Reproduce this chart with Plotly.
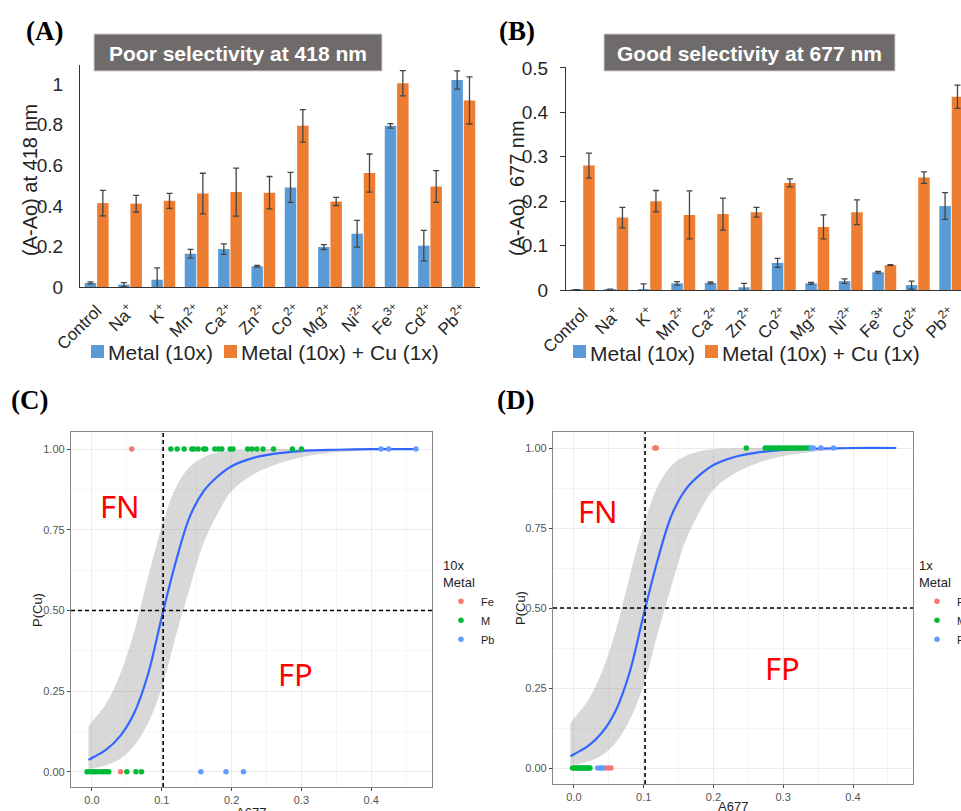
import plotly.graph_objects as go

W, H = 961, 811
def px(x):
    return x / W
def py(y):
    return 1 - y / H

# ---------------- data: bar panels ----------------
metals = ["Control", "Na", "K", "Mn", "Ca", "Zn", "Co", "Mg", "Ni", "Fe", "Cd", "Pb"]
metal_labels = ["Control", "Na<sup>+</sup>", "K<sup>+</sup>", "Mn<sup>2+</sup>", "Ca<sup>2+</sup>",
                "Zn<sup>2+</sup>", "Co<sup>2+</sup>", "Mg<sup>2+</sup>", "Ni<sup>2+</sup>",
                "Fe<sup>3+</sup>", "Cd<sup>2+</sup>", "Pb<sup>2+</sup>"]

a418_metal = [0.020, 0.012, 0.036, 0.164, 0.187, 0.102, 0.491, 0.197, 0.263, 0.795, 0.204, 1.021]
a418_metal_err = [0.005, 0.010, 0.058, 0.022, 0.026, 0.004, 0.074, 0.012, 0.066, 0.011, 0.075, 0.045]
a418_cu = [0.414, 0.411, 0.425, 0.461, 0.468, 0.465, 0.795, 0.422, 0.562, 1.005, 0.496, 0.920]
a418_cu_err = [0.063, 0.041, 0.037, 0.100, 0.118, 0.080, 0.080, 0.020, 0.094, 0.062, 0.078, 0.116]

a677_metal = [0.001, 0.002, 0.002, 0.015, 0.016, 0.006, 0.061, 0.015, 0.020, 0.040, 0.011, 0.189]
a677_metal_err = [0.0, 0.0, 0.012, 0.004, 0.002, 0.009, 0.010, 0.002, 0.005, 0.002, 0.009, 0.030]
a677_cu = [0.280, 0.163, 0.200, 0.169, 0.171, 0.175, 0.241, 0.142, 0.175, 0.056, 0.253, 0.435]
a677_cu_err = [0.028, 0.023, 0.024, 0.054, 0.036, 0.011, 0.009, 0.027, 0.028, 0.001, 0.013, 0.026]

a_yticks = [0, 0.2, 0.4, 0.6, 0.8, 1.0]
a_yticktext = ["0", "0.2", "0.4", "0.6", "0.8", "1"]
b_yticks = [0, 0.1, 0.2, 0.3, 0.4, 0.5]
b_yticktext = ["0", "0.1", "0.2", "0.3", "0.4", "0.5"]

# ---------------- data: logistic panels ----------------
fit_x = [-0.005, 0.0, 0.02, 0.04, 0.06, 0.08, 0.10, 0.12, 0.14, 0.16, 0.18, 0.20, 0.23, 0.26, 0.30, 0.35, 0.40, 0.462]
fit_p = [0.037, 0.043, 0.068, 0.11, 0.18, 0.30, 0.48, 0.65, 0.79, 0.87, 0.915, 0.947, 0.972, 0.985, 0.994, 0.998, 1.0, 1.0]
fit_hi = [0.14, 0.155, 0.21, 0.30, 0.43, 0.60, 0.76, 0.88, 0.945, 0.975, 0.99, 0.996, 0.999, 1.0, 1.0, 1.0, 1.0, 1.0]
fit_lo = [0.008, 0.010, 0.020, 0.040, 0.08, 0.15, 0.26, 0.42, 0.57, 0.71, 0.80, 0.87, 0.92, 0.95, 0.975, 0.99, 0.996, 1.0]
threshold_x = 0.102
threshold_p = 0.5

# 10x metal (panel C)
c_fe_x = [0.057, 0.041]
c_fe_y = [1, 0]
c_m_x = [0.113, 0.122, 0.132, 0.143, 0.146, 0.152, 0.160, 0.163, 0.176, 0.181, 0.186, 0.198, 0.202,
         0.223, 0.229, 0.236, 0.245, 0.260, 0.287, 0.300,
         -0.007, -0.003, 0.001, 0.004, 0.008, 0.013, 0.017, 0.021, 0.024, 0.050, 0.063, 0.071]
c_m_y = [1] * 20 + [0] * 12
c_pb_x = [0.414, 0.425, 0.464, 0.156, 0.192, 0.217]
c_pb_y = [1, 1, 1, 0, 0, 0]

# 1x metal (panel D)
d_fe_x = [0.116, 0.118, 0.044, 0.049, 0.053]
d_fe_y = [1, 1, 0, 0, 0]
d_m_x = [0.247, 0.274, 0.278, 0.282, 0.286, 0.290, 0.294, 0.298, 0.302, 0.306, 0.310, 0.314, 0.318,
         0.322, 0.326, 0.330, 0.334, 0.337,
         -0.002, 0.001, 0.003, 0.005, 0.007, 0.009, 0.011, 0.013, 0.015, 0.017, 0.019, 0.021, 0.023]
d_m_y = [1] * 18 + [0] * 13
d_pb_x = [0.340, 0.343, 0.354, 0.372, 0.034, 0.038, 0.041]
d_pb_y = [1, 1, 1, 1, 0, 0, 0]

BLUE_BAR = "#5B9BD5"
ORANGE_BAR = "#ED7D31"
ERR = "#444444"
GG_RED, GG_GREEN, GG_BLUE = "#F8766D", "#00BA38", "#619CFF"

fig = go.Figure()

def add_bars(vals, errs, color, xa, ya):
    fig.add_trace(go.Bar(
        x=metals, y=vals, marker=dict(color=color, line=dict(width=0)),
        error_y=dict(type="data", array=errs, color=ERR, thickness=1.3, width=3),
        xaxis=xa, yaxis=ya, showlegend=False))

add_bars(a418_metal, a418_metal_err, BLUE_BAR, "x", "y")
add_bars(a418_cu, a418_cu_err, ORANGE_BAR, "x", "y")
add_bars(a677_metal, a677_metal_err, BLUE_BAR, "x2", "y2")
add_bars(a677_cu, a677_cu_err, ORANGE_BAR, "x2", "y2")

def add_logit(xa, ya, groups, legend):
    fig.add_trace(go.Scatter(x=fit_x, y=fit_lo, mode="lines", line=dict(width=0, shape="spline"),
                             xaxis=xa, yaxis=ya, showlegend=False, hoverinfo="skip"))
    fig.add_trace(go.Scatter(x=fit_x, y=fit_hi, mode="lines", line=dict(width=0, shape="spline"),
                             fill="tonexty", fillcolor="rgba(153,153,153,0.38)",
                             xaxis=xa, yaxis=ya, showlegend=False, hoverinfo="skip"))
    fig.add_trace(go.Scatter(x=fit_x, y=fit_p, mode="lines",
                             line=dict(color="#3366FF", width=2.2, shape="spline"),
                             xaxis=xa, yaxis=ya, showlegend=False))
    for name, gx, gy, col in groups:
        fig.add_trace(go.Scatter(x=gx, y=gy, mode="markers", name=name,
                                 marker=dict(color=col, size=5.5, line=dict(width=0)),
                                 xaxis=xa, yaxis=ya, legend=legend))

add_logit("x3", "y3", [("Fe", c_fe_x, c_fe_y, GG_RED), ("M", c_m_x, c_m_y, GG_GREEN),
                       ("Pb", c_pb_x, c_pb_y, GG_BLUE)], "legend3")
add_logit("x4", "y4", [("Fe", d_fe_x, d_fe_y, GG_RED), ("M", d_m_x, d_m_y, GG_GREEN),
                       ("Pb", d_pb_x, d_pb_y, GG_BLUE)], "legend4")

bar_x_common = dict(type="category", categoryorder="array", categoryarray=metals,
                    tickmode="array", tickvals=metals, ticktext=metal_labels, tickangle=-45,
                    tickfont=dict(size=17, color="#262626"), showline=True, linecolor="#333333",
                    linewidth=1.2, ticks="", showgrid=False, zeroline=False, automargin=False)
bar_y_common = dict(showline=True, linecolor="#333333", linewidth=1.2, showgrid=False,
                    zeroline=False, tickfont=dict(size=19, color="#262626"), tickmode="array",
                    automargin=False)

gg_x = dict(range=[-0.030, 0.487], dtick=0.1, tick0=0, tickformat=".1f", showgrid=True,
            gridcolor="#ebebeb", gridwidth=1, minor=dict(dtick=0.05, showgrid=True, gridcolor="#f5f5f5"),
            showline=True, mirror=True, linecolor="#858585", linewidth=1.3, ticks="outside",
            ticklen=3, tickcolor="#444", tickfont=dict(size=11, color="#555555"), zeroline=False,
            automargin=False)
gg_y = dict(range=[-0.047, 1.053], dtick=0.25, tick0=0, tickformat=".2f", showgrid=True,
            gridcolor="#ebebeb", gridwidth=1, minor=dict(dtick=0.125, showgrid=True, gridcolor="#f5f5f5"),
            showline=True, mirror=True, linecolor="#858585", linewidth=1.3, ticks="outside",
            ticklen=3, tickcolor="#444", tickfont=dict(size=11, color="#555555"), zeroline=False,
            automargin=False)

fig.update_layout(
    width=W, height=H, margin=dict(l=0, r=0, t=0, b=0, pad=0, autoexpand=False),
    paper_bgcolor="white", plot_bgcolor="white",
    font=dict(family="Liberation Sans, Arial, sans-serif"),
    barmode="group", bargap=0.26, bargroupgap=0.07,
    showlegend=True,
    xaxis=dict(domain=[px(80), px(480)], anchor="y", range=[-0.5, 11.5], ticklabelstandoff=6, **bar_x_common),
    yaxis=dict(domain=[py(287), py(65)], anchor="x", range=[0, 1.095], tickvals=a_yticks,
               ticktext=a_yticktext, ticks="", ticklabelstandoff=12, **bar_y_common),
    xaxis2=dict(domain=[px(566), 1.0], anchor="y2", range=[-0.5, 11.29], ticklabelstandoff=6, **bar_x_common),
    yaxis2=dict(domain=[py(290), py(67)], anchor="x2", range=[0, 0.502], tickvals=b_yticks,
                ticktext=b_yticktext, ticks="outside", ticklen=5, tickcolor="#333333",
                ticklabelstandoff=8, **bar_y_common),
    xaxis3=dict(domain=[px(71), px(432)], anchor="y3", **gg_x),
    yaxis3=dict(domain=[py(787), py(432)], anchor="x3", **gg_y),
    xaxis4=dict(domain=[px(553), px(913)], anchor="y4", **gg_x),
    yaxis4=dict(domain=[py(784), py(432)], anchor="x4", **gg_y),
    legend3=dict(x=px(441), y=py(553), xanchor="left", yanchor="top",
                 title=dict(text="10x<br>Metal", font=dict(size=13, color="#222")),
                 font=dict(size=11, color="#222"), bgcolor="rgba(0,0,0,0)"),
    legend4=dict(x=px(917), y=py(553), xanchor="left", yanchor="top",
                 title=dict(text="1x<br>Metal", font=dict(size=13, color="#222")),
                 font=dict(size=11, color="#222"), bgcolor="rgba(0,0,0,0)"),
)
fig.update_layout(xaxis4_range=[-0.030, 0.486], yaxis4_range=[-0.05, 1.05])

shapes = []
# title boxes
for x0, x1 in [(94, 382), (604, 895)]:
    shapes.append(dict(type="rect", xref="paper", yref="paper", x0=px(x0), x1=px(x1), y0=py(71), y1=py(34),
                       fillcolor="#6f6b6b", line=dict(color="#d0d0d0", width=1), layer="above"))
# manual bar legends
for sx in [91, 224, 573, 705]:
    col = BLUE_BAR if sx in (91, 573) else ORANGE_BAR
    shapes.append(dict(type="rect", xref="paper", yref="paper", x0=px(sx), x1=px(sx + 13),
                       y0=py(358), y1=py(345), fillcolor=col, line=dict(width=0)))
# threshold dashed lines
for xa, ya in [("x3", "y3"), ("x4", "y4")]:
    shapes.append(dict(type="line", xref=xa, yref=ya + " domain", x0=threshold_x, x1=threshold_x, y0=0, y1=1,
                       line=dict(color="black", dash="4px,3px", width=1.6), layer="above"))
    shapes.append(dict(type="line", xref=xa + " domain", yref=ya, x0=0, x1=1, y0=threshold_p, y1=threshold_p,
                       line=dict(color="black", dash="4px,3px", width=1.6), layer="above"))
fig.update_layout(shapes=shapes)

ann = []
def text(x, y, s, size, color="#222", family=None, angle=0, xanchor="center", bold=False):
    d = dict(x=px(x), y=py(y), xref="paper", yref="paper", text=("<b>%s</b>" % s) if bold else s,
             showarrow=False, xanchor=xanchor, yanchor="middle", textangle=angle,
             font=dict(size=size, color=color, family=family or "Liberation Sans, Arial, sans-serif"))
    ann.append(d)

serif = "Liberation Serif, Times New Roman, serif"
text(24, 31, "(A)", 27, "black", serif, xanchor="left", bold=True)
text(497, 31, "(B)", 27, "black", serif, xanchor="left", bold=True)
text(9, 400, "(C)", 27, "black", serif, xanchor="left", bold=True)
text(495, 400, "(D)", 27, "black", serif, xanchor="left", bold=True)

text(238, 53, "Poor selectivity at 418 nm", 21, "white", bold=True)
text(749.5, 53, "Good selectivity at 677 nm", 21, "white", bold=True)

text(30, 180, "(A-Ao) at 418 nm", 20, "#222", angle=-90)
text(517, 188, "(A-Ao)  677 nm", 20, "#222", angle=-90)

text(106, 352, "Metal (10x)", 21, "#262626", xanchor="left")
text(239, 352, "Metal (10x) + Cu (1x)", 21, "#262626", xanchor="left")
text(588, 354, "Metal (10x)", 21, "#262626", xanchor="left")
text(720, 354, "Metal (10x) + Cu (1x)", 21, "#262626", xanchor="left")

text(37, 610, "P(Cu)", 13, "#222", angle=-90)
text(520, 608, "P(Cu)", 13, "#222", angle=-90)
text(251, 812, "A677", 13, "#222")
text(733, 806, "A677", 13, "#222")

red = "#ff0000"
fn_font = "Noto Sans, Open Sans, sans-serif"
text(120, 506, "FN", 31, red, fn_font)
text(295, 674, "FP", 31, red, fn_font)
text(598, 511, "FN", 31, red, fn_font)
text(782, 668, "FP", 31, red, fn_font)

fig.update_layout(annotations=ann)

fig.write_html("out.html")
